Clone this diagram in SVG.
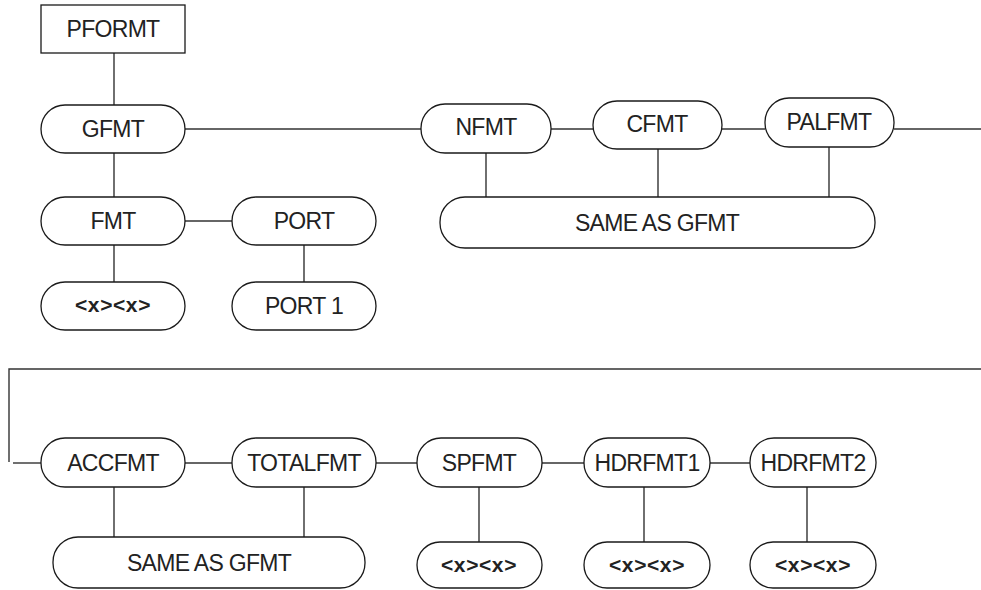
<svg xmlns="http://www.w3.org/2000/svg" width="981" height="590" viewBox="0 0 981 590">
<style>
.n{fill:#fff;stroke:#1a1a1a;stroke-width:1.3}
.t{font-family:"Liberation Sans",Arial,sans-serif;font-size:23px;fill:#222;text-anchor:middle;letter-spacing:-0.7px}
.b{font-family:"Liberation Sans",Arial,sans-serif;font-size:21px;font-weight:bold;fill:#222;text-anchor:middle;letter-spacing:0.6px}
.c{stroke:#333;stroke-width:1.4;fill:none}
</style>
<rect width="981" height="590" fill="#fff"/>
<g id="connectors">
<line class="c" x1="114" y1="53" x2="114" y2="105"/>
<line class="c" x1="185" y1="129" x2="421" y2="129"/>
<line class="c" x1="114" y1="153" x2="114" y2="197"/>
<line class="c" x1="185" y1="221" x2="232" y2="221"/>
<line class="c" x1="114" y1="245" x2="114" y2="282"/>
<line class="c" x1="304" y1="245" x2="304" y2="282"/>
<line class="c" x1="551" y1="129" x2="593" y2="129"/>
<line class="c" x1="722" y1="129" x2="765" y2="129"/>
<line class="c" x1="894" y1="129" x2="981" y2="129"/>
<line class="c" x1="486" y1="153" x2="486" y2="197"/>
<line class="c" x1="658" y1="149" x2="658" y2="197"/>
<line class="c" x1="829" y1="147" x2="829" y2="197"/>
<path class="c" d="M981 369 H9 V462"/>
<line class="c" x1="13" y1="463" x2="41" y2="463"/>
<line class="c" x1="185" y1="463" x2="232" y2="463"/>
<line class="c" x1="376" y1="463" x2="417" y2="463"/>
<line class="c" x1="542" y1="463" x2="584" y2="463"/>
<line class="c" x1="710" y1="463" x2="750" y2="463"/>
<line class="c" x1="114" y1="487" x2="114" y2="537"/>
<line class="c" x1="304" y1="487" x2="304" y2="537"/>
<line class="c" x1="479" y1="487" x2="479" y2="542"/>
<line class="c" x1="644" y1="487" x2="644" y2="542"/>
<line class="c" x1="807" y1="487" x2="807" y2="542"/>
</g>
<g id="pformt"><rect class="n" x="41" y="5" width="144" height="48"/><text class="t" x="113" y="37">PFORMT</text></g>
<g id="gfmt"><rect class="n" x="41" y="105" width="144" height="48" rx="24"/><text class="t" x="113" y="137">GFMT</text></g>
<g id="fmt"><rect class="n" x="41" y="197" width="144" height="48" rx="24"/><text class="t" x="113" y="229">FMT</text></g>
<g id="port"><rect class="n" x="232" y="197" width="144" height="48" rx="24"/><text class="t" x="304" y="229">PORT</text></g>
<g id="fmt-xx"><rect class="n" x="41" y="282" width="144" height="48" rx="24"/><text class="b" x="113" y="312">&lt;x&gt;&lt;x&gt;</text></g>
<g id="port1"><rect class="n" x="232" y="282" width="144" height="48" rx="24"/><text class="t" x="304" y="314">PORT 1</text></g>
<g id="nfmt"><rect class="n" x="421" y="104" width="130" height="49" rx="24"/><text class="t" x="486" y="135">NFMT</text></g>
<g id="cfmt"><rect class="n" x="593" y="101" width="129" height="48" rx="24"/><text class="t" x="657" y="132">CFMT</text></g>
<g id="palfmt"><rect class="n" x="765" y="98" width="129" height="49" rx="24"/><text class="t" x="829" y="130">PALFMT</text></g>
<g id="same1"><rect class="n" x="440" y="197" width="435" height="51" rx="25"/><text class="t" x="657" y="231">SAME AS GFMT</text></g>
<g id="accfmt"><rect class="n" x="41" y="438" width="144" height="49" rx="24"/><text class="t" x="113" y="471">ACCFMT</text></g>
<g id="totalfmt"><rect class="n" x="232" y="438" width="144" height="49" rx="24"/><text class="t" x="304" y="471">TOTALFMT</text></g>
<g id="spfmt"><rect class="n" x="417" y="438" width="125" height="49" rx="24"/><text class="t" x="479" y="471">SPFMT</text></g>
<g id="hdrfmt1"><rect class="n" x="584" y="438" width="126" height="49" rx="24"/><text class="t" x="647" y="471">HDRFMT1</text></g>
<g id="hdrfmt2"><rect class="n" x="750" y="438" width="126" height="49" rx="24"/><text class="t" x="813" y="471">HDRFMT2</text></g>
<g id="same2"><rect class="n" x="53" y="537" width="312" height="51" rx="25"/><text class="t" x="209" y="571">SAME AS GFMT</text></g>
<g id="sp-xx"><rect class="n" x="417" y="542" width="125" height="46" rx="23"/><text class="b" x="479" y="572">&lt;x&gt;&lt;x&gt;</text></g>
<g id="h1-xx"><rect class="n" x="584" y="542" width="126" height="46" rx="23"/><text class="b" x="647" y="572">&lt;x&gt;&lt;x&gt;</text></g>
<g id="h2-xx"><rect class="n" x="750" y="542" width="126" height="46" rx="23"/><text class="b" x="813" y="572">&lt;x&gt;&lt;x&gt;</text></g>
</svg>
